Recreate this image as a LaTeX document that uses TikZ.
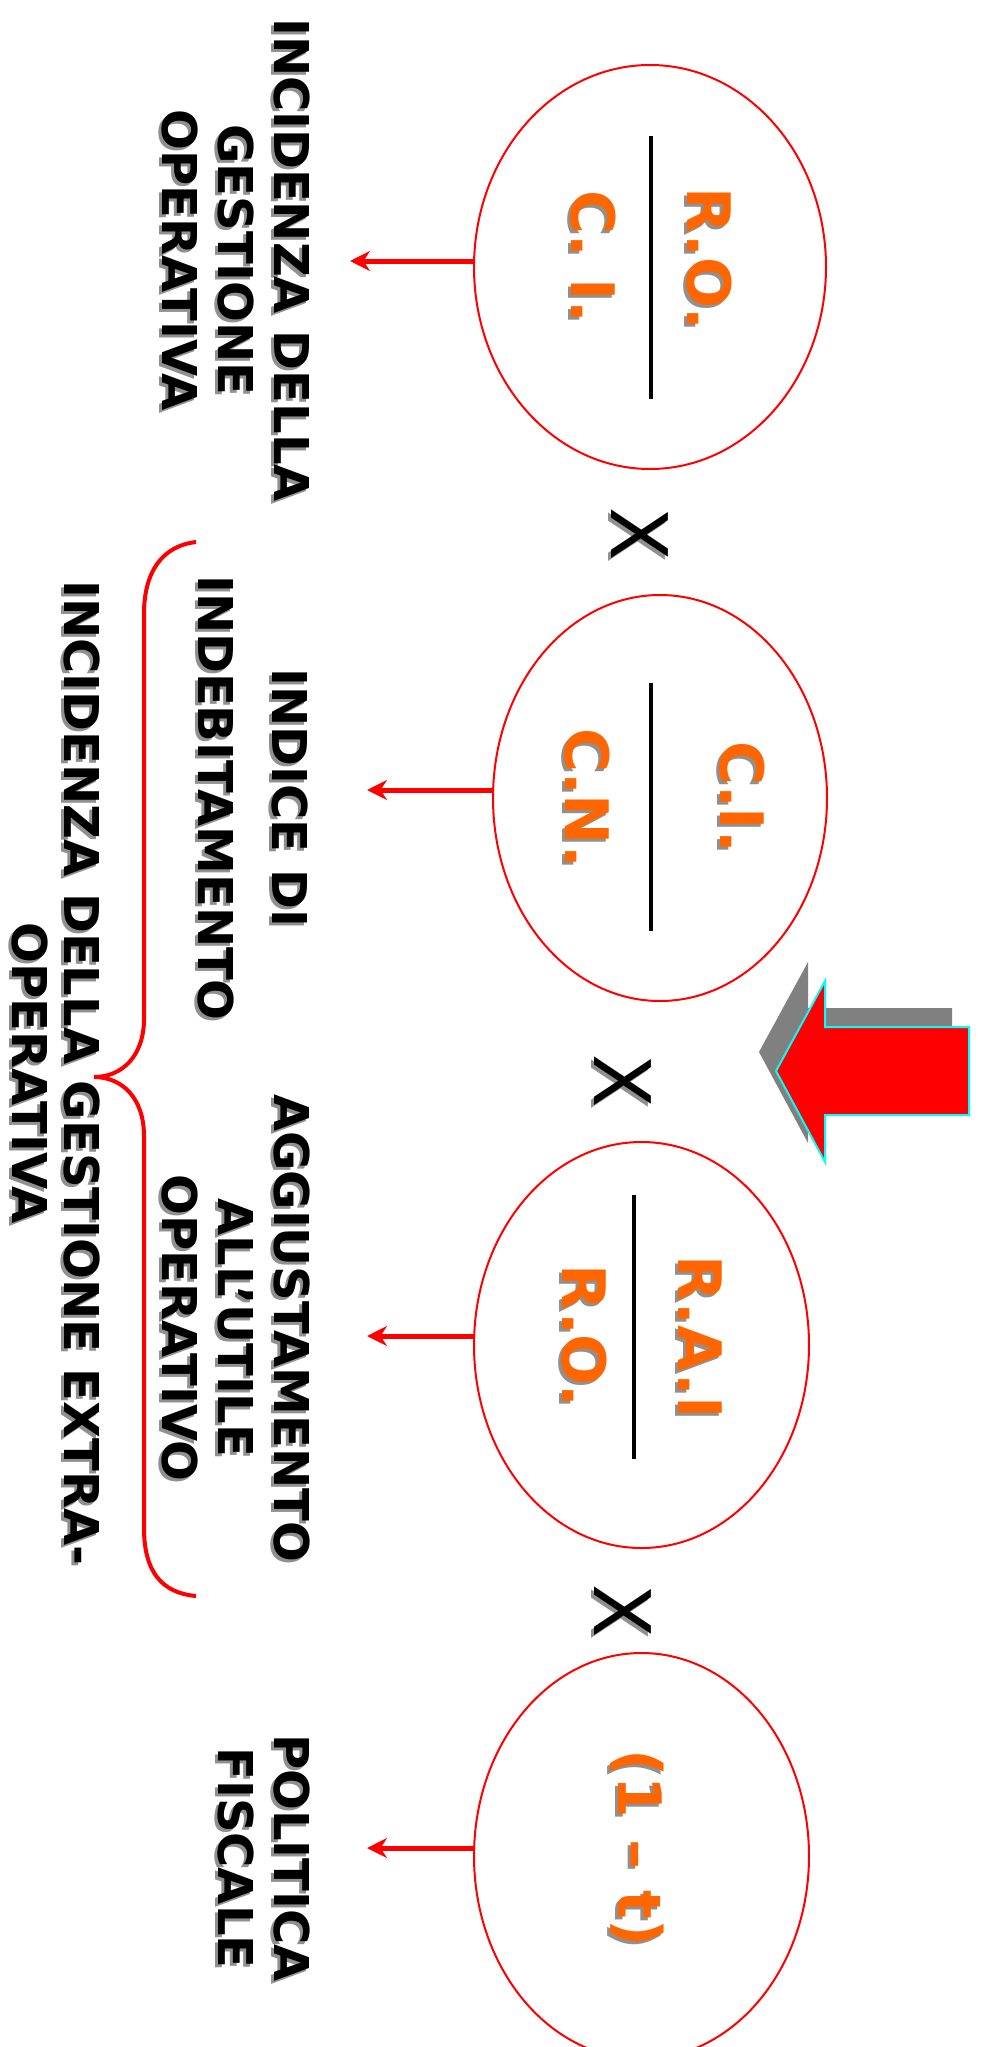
\documentclass[tikz,border=0pt]{standalone}
\usepackage{fontspec}
\setmainfont{DejaVu Sans}
\usetikzlibrary{shapes.geometric,arrows.meta,calc}
\definecolor{ored}{HTML}{FF0000}
\definecolor{orng}{HTML}{FF6600}
\definecolor{shadowc}{HTML}{909090}
\definecolor{arrgray}{HTML}{808080}
\definecolor{cyanline}{HTML}{00FFFF}
\newcommand{\shnode}[4]{%
  \node[#1, text=shadowc] (#2s) at ($(#3)+(-3,3)$) {#4};
  \node[#1] (#2) at (#3) {#4};}
\begin{document}
\begin{tikzpicture}[x=1pt,y=-1pt,
  lab/.style={rotate=-90, align=center, inner sep=0pt, text=black,
    font=\fontsize{48}{56}\selectfont\bfseries},
  fracnum/.style={rotate=-90, inner sep=0pt, text=orng,
    font=\fontsize{60}{72}\selectfont\bfseries},
  times/.style={rotate=-90, inner sep=0pt, text=black,
    font=\fontsize{78}{90}\selectfont},
  ell/.style={draw=ored, line width=2pt, ellipse, inner sep=0pt},
  redarrow/.style={draw=ored, line width=5pt, -{Stealth[length=20pt,width=20pt]}},
  fracline/.style={draw=black, line width=4pt},
  bracestyle/.style={draw=ored, line width=4pt},
  bigarrow/.style={fill=ored, draw=cyanline, line width=2pt},
  bigshadow/.style={fill=arrgray, draw=none}]
\clip (0,0) rectangle (982,2047);
\fill[white] (0,0) rectangle (982,2047);

% ellipses
\node[ell, minimum width=352pt, minimum height=404pt] (e1) at (650,267) {};
\node[ell, minimum width=334pt, minimum height=406pt] (e2) at (660,798) {};
\node[ell, minimum width=335pt, minimum height=406pt] (e3) at (641.5,1345) {};
\node[ell, minimum width=335pt, minimum height=406pt] (e4) at (641.5,1856) {};

% fraction bars
\draw[fracline] (651,136) -- (651,399);
\draw[fracline] (651,683) -- (651,931);
\draw[fracline] (634,1195) -- (634,1459);

% orange terms
\shnode{fracnum}{n1}{709,259}{R.O.}
\shnode{fracnum}{d1}{593,257}{C. I.}
\shnode{fracnum}{n2}{742,797}{C.I.}
\shnode{fracnum}{d2}{587,798}{C.N.}
\shnode{fracnum}{n3}{700,1337}{R.A.I}
\shnode{fracnum}{d3}{584,1336}{R.O.}
\shnode{fracnum}{n4}{637,1848}{(1 – t)}

% multiplication signs
\shnode{times}{x1}{640,534}{X}
\shnode{times}{x2}{623,1081}{X}
\shnode{times}{x3}{623,1611}{X}

% labels
\shnode{lab}{l1}{236,260}{INCIDENZA DELLA\\GESTIONE\\OPERATIVA}
\shnode{lab}{l2}{253,798}{INDICE DI\\[18pt]INDEBITAMENTO}
\shnode{lab}{l3}{236,1328}{AGGIUSTAMENTO\\ALL’UTILE\\OPERATIVO}
\shnode{lab}{l4}{263.5,1858}{POLITICA\\FISCALE}
\shnode{lab}{l5}{56,1073}{INCIDENZA DELLA GESTIONE EXTRA-\\[-4pt]OPERATIVA}

% arrow ends
\coordinate (a1) at (350,261);
\coordinate (a2) at (367,790);
\coordinate (a3) at (367,1336);
\coordinate (a4) at (367,1848);
\draw[redarrow] (e1.west |- a1) -- (a1);
\draw[redarrow] (e2.west |- a2) -- (a2);
\draw[redarrow] (e3.west |- a3) -- (a3);
\draw[redarrow] (e4.west |- a4) -- (a4);

% brace
\draw[bracestyle] (196,542) .. controls (162,546) and (144,572) .. (144,614)
  -- (144,1019) .. controls (144,1056) and (122,1077) .. (94,1077)
  .. controls (122,1077) and (144,1098) .. (144,1136)
  -- (144,1528) .. controls (144,1572) and (162,1593) .. (196,1596);

% big arrow
\path[bigshadow] (759,1052) -- (808,962) -- (808,1008) -- (952,1008)
  -- (952,1096) -- (808,1096) -- (808,1143) -- cycle;
\path[bigarrow] (776,1071) -- (825,981) -- (825,1027) -- (969,1027)
  -- (969,1115) -- (825,1115) -- (825,1162) -- cycle;
\end{tikzpicture}
\end{document}
